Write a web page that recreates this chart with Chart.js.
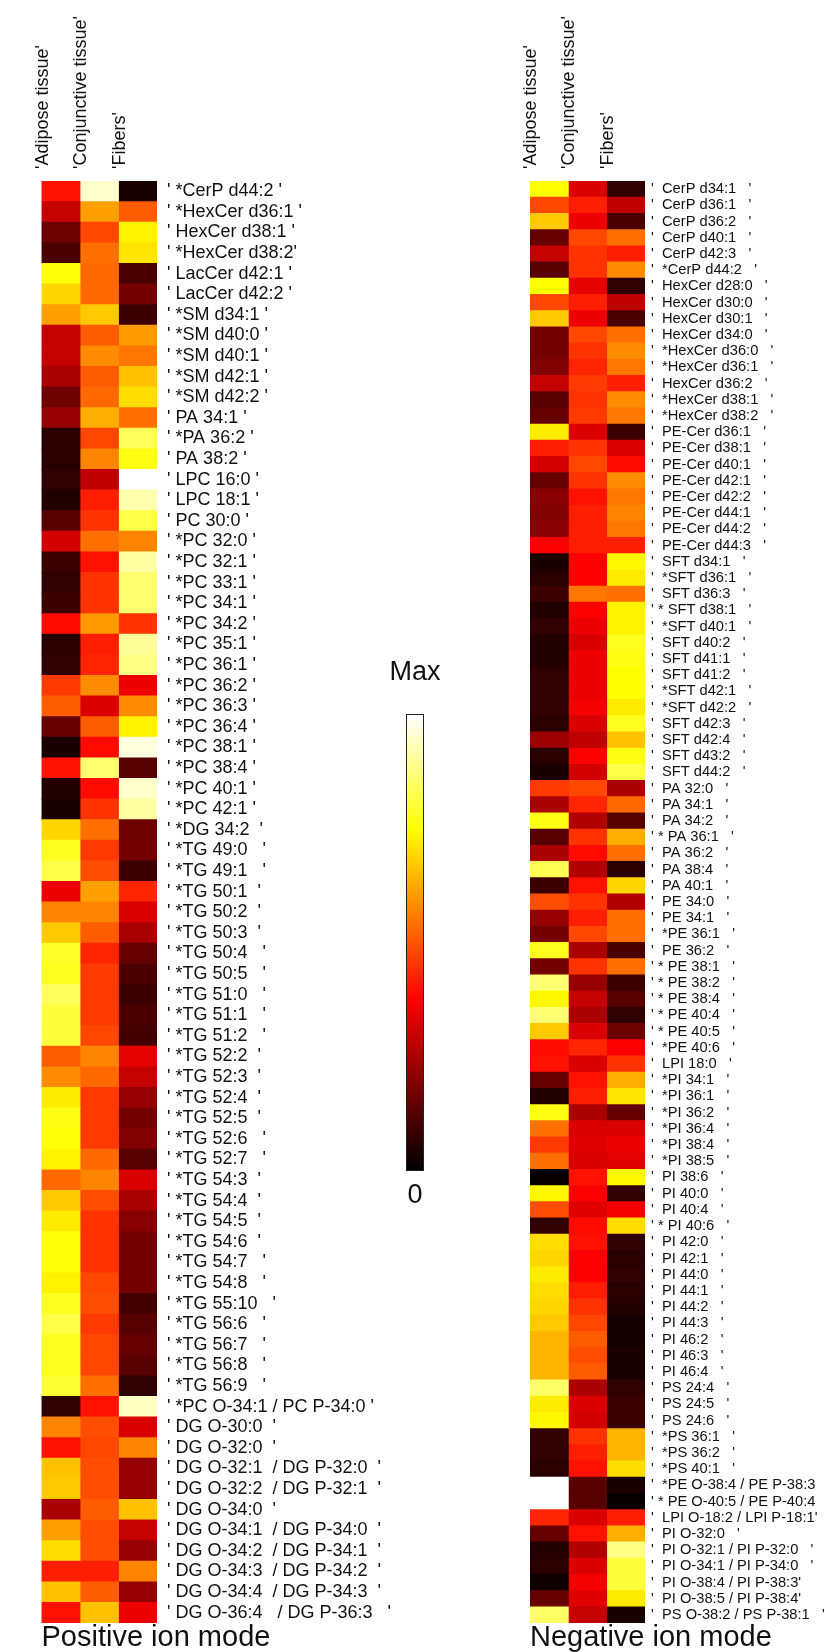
<!DOCTYPE html>
<html lang="en">
  <head>
    <meta charset="UTF-8" />
    <title>lipid heatmap</title>
    <script src="https://cdn.jsdelivr.net/npm/chart.js@4.4.1/dist/chart.umd.min.js"></script>
    <style>
      body { margin: 0; background: #fff; font-family: "Liberation Sans", Arial, sans-serif; }
      #figure { position: relative; width: 825px; height: 1652px; overflow: hidden; }
      canvas { position: absolute; top: 0; }
      #posChart { left: 0; }
      #negChart { left: 480px; }
      #colorbar {
        position: absolute; left: 406px; top: 714px; width: 16px; height: 455px;
        border: 1px solid #222;
        background: linear-gradient(to top, #000 0%, #f00 37.5%, #ff0 75%, #fff 100%);
      }
      .cbText { position: absolute; width: 80px; text-align: center; font-size: 27px; color: #111; }
    </style>
    <script defer>
      const tissues = ["'Adipose tissue'", "'Conjunctive tissue'", "'Fibers'"];

      // positive ion mode
      const posLabels = [
        "' *CerP d44:2 '", "' *HexCer d36:1 '", "' HexCer d38:1 '", "' *HexCer d38:2'",
        "' LacCer d42:1 '", "' LacCer d42:2 '", "' *SM d34:1 '", "' *SM d40:0 '",
        "' *SM d40:1 '", "' *SM d42:1 '", "' *SM d42:2 '", "' PA 34:1 '",
        "' *PA 36:2 '", "' PA 38:2 '", "' LPC 16:0 '", "' LPC 18:1 '", "' PC 30:0 '",
        "' *PC 32:0 '", "' *PC 32:1 '", "' *PC 33:1 '", "' *PC 34:1 '", "' *PC 34:2 '",
        "' *PC 35:1 '", "' *PC 36:1 '", "' *PC 36:2 '", "' *PC 36:3 '", "' *PC 36:4 '",
        "' *PC 38:1 '", "' *PC 38:4 '", "' *PC 40:1 '", "' *PC 42:1 '", "' *DG 34:2  '",
        "' *TG 49:0   '", "' *TG 49:1   '", "' *TG 50:1  '", "' *TG 50:2  '", "' *TG 50:3  '",
        "' *TG 50:4   '", "' *TG 50:5   '", "' *TG 51:0   '", "' *TG 51:1   '", "' *TG 51:2   '",
        "' *TG 52:2  '", "' *TG 52:3  '", "' *TG 52:4  '", "' *TG 52:5  '", "' *TG 52:6   '",
        "' *TG 52:7   '", "' *TG 54:3  '", "' *TG 54:4  '", "' *TG 54:5  '", "' *TG 54:6  '",
        "' *TG 54:7   '", "' *TG 54:8   '", "' *TG 55:10   '", "' *TG 56:6   '", "' *TG 56:7   '",
        "' *TG 56:8   '", "' *TG 56:9   '", "' *PC O-34:1 / PC P-34:0 '", "' DG O-30:0  '",
        "' DG O-32:0  '", "' DG O-32:1  / DG P-32:0  '", "' DG O-32:2  / DG P-32:1  '",
        "' DG O-34:0  '", "' DG O-34:1  / DG P-34:0  '", "' DG O-34:2  / DG P-34:1  '",
        "' DG O-34:3  / DG P-34:2  '", "' DG O-34:4  / DG P-34:3  '", "' DG O-36:4   / DG P-36:3   '"
      ];
      const posAdipose = [
        0.40, 0.29, 0.16, 0.11, 0.76, 0.69, 0.61, 0.29, 0.29, 0.25,
        0.16, 0.22, 0.06, 0.06, 0.07, 0.05, 0.13, 0.31, 0.09, 0.07,
        0.09, 0.39, 0.06, 0.07, 0.46, 0.51, 0.15, 0.04, 0.40, 0.05,
        0.04, 0.69, 0.78, 0.82, 0.35, 0.57, 0.67, 0.79, 0.78, 0.84,
        0.81, 0.81, 0.51, 0.58, 0.72, 0.77, 0.76, 0.73, 0.53, 0.67,
        0.72, 0.76, 0.76, 0.73, 0.78, 0.82, 0.78, 0.78, 0.80, 0.07,
        0.57, 0.40, 0.66, 0.67, 0.25, 0.61, 0.70, 0.42, 0.66, 0.40
      ];
      const posConjunctive = [
        0.95, 0.61, 0.48, 0.54, 0.53, 0.53, 0.67, 0.51, 0.58, 0.51,
        0.53, 0.63, 0.48, 0.57, 0.28, 0.42, 0.45, 0.54, 0.40, 0.45,
        0.45, 0.60, 0.42, 0.43, 0.58, 0.32, 0.51, 0.39, 0.86, 0.39,
        0.45, 0.54, 0.46, 0.49, 0.61, 0.57, 0.51, 0.43, 0.46, 0.46,
        0.46, 0.48, 0.57, 0.53, 0.46, 0.46, 0.46, 0.53, 0.57, 0.49,
        0.45, 0.45, 0.45, 0.48, 0.49, 0.46, 0.48, 0.48, 0.54, 0.40,
        0.49, 0.48, 0.49, 0.49, 0.51, 0.49, 0.49, 0.42, 0.51, 0.66
      ];
      const posFibers = [
        0.04, 0.51, 0.73, 0.71, 0.11, 0.17, 0.09, 0.60, 0.55, 0.66,
        0.70, 0.54, 0.84, 0.77, 1.00, 0.92, 0.82, 0.57, 0.91, 0.86,
        0.86, 0.45, 0.90, 0.88, 0.35, 0.58, 0.73, 0.97, 0.13, 0.95,
        0.91, 0.16, 0.17, 0.09, 0.43, 0.32, 0.25, 0.15, 0.11, 0.09,
        0.11, 0.10, 0.34, 0.29, 0.22, 0.17, 0.19, 0.13, 0.32, 0.25,
        0.20, 0.17, 0.17, 0.17, 0.10, 0.13, 0.15, 0.13, 0.07, 0.94,
        0.32, 0.57, 0.22, 0.22, 0.66, 0.29, 0.22, 0.57, 0.22, 0.35
      ];

      // negative ion mode
      const negLabels = [
        "'  CerP d34:1   '", "'  CerP d36:1   '", "'  CerP d36:2   '", "'  CerP d40:1   '",
        "'  CerP d42:3   '", "'  *CerP d44:2   '", "'  HexCer d28:0   '", "'  HexCer d30:0   '",
        "'  HexCer d30:1   '", "'  HexCer d34:0   '", "'  *HexCer d36:0   '", "'  *HexCer d36:1   '",
        "'  HexCer d36:2   '", "'  *HexCer d38:1   '", "'  *HexCer d38:2   '", "'  PE-Cer d36:1   '",
        "'  PE-Cer d38:1   '", "'  PE-Cer d40:1   '", "'  PE-Cer d42:1   '", "'  PE-Cer d42:2   '",
        "'  PE-Cer d44:1   '", "'  PE-Cer d44:2   '", "'  PE-Cer d44:3   '", "'  SFT d34:1   '",
        "'  *SFT d36:1   '", "'  SFT d36:3   '", "' * SFT d38:1   '", "'  *SFT d40:1   '",
        "'  SFT d40:2   '", "'  SFT d41:1   '", "'  SFT d41:2   '", "'  *SFT d42:1   '",
        "'  *SFT d42:2   '", "'  SFT d42:3   '", "'  SFT d42:4   '", "'  SFT d43:2   '",
        "'  SFT d44:2   '", "'  PA 32:0   '", "'  PA 34:1   '", "'  PA 34:2   '",
        "' * PA 36:1   '", "'  PA 36:2   '", "'  PA 38:4   '", "'  PA 40:1   '",
        "'  PE 34:0   '", "'  PE 34:1   '", "'  *PE 36:1   '", "'  PE 36:2   '",
        "' * PE 38:1   '", "' * PE 38:2   '", "' * PE 38:4   '", "' * PE 40:4   '",
        "' * PE 40:5   '", "'  *PE 40:6   '", "'  LPI 18:0   '", "'  *PI 34:1   '",
        "'  *PI 36:1   '", "'  *PI 36:2   '", "'  *PI 36:4   '", "'  *PI 38:4   '",
        "'  *PI 38:5   '", "'  PI 38:6   '", "'  PI 40:0   '", "'  PI 40:4   '",
        "' * PI 40:6   '", "'  PI 42:0   '", "'  PI 42:1   '", "'  PI 44:0   '",
        "'  PI 44:1   '", "'  PI 44:2   '", "'  PI 44:3   '", "'  PI 46:2   '",
        "'  PI 46:3   '", "'  PI 46:4   '", "'  PS 24:4   '", "'  PS 24:5   '",
        "'  PS 24:6   '", "'  *PS 36:1   '", "'  *PS 36:2   '", "'  *PS 40:1   '",
        "'  *PE O-38:4 / PE P-38:3   '", "' * PE O-40:5 / PE P-40:4   '",
        "'  LPI O-18:2 / LPI P-18:1'", "'  PI O-32:0   '", "'  PI O-32:1 / PI P-32:0   '",
        "'  PI O-34:1 / PI P-34:0   '", "'  PI O-38:4 / PI P-38:3'", "'  PI O-38:5 / PI P-38:4'",
        "'  PS O-38:2 / PS P-38:1   '"
      ];
      const negAdipose = [
        0.75, 0.48, 0.67, 0.15, 0.29, 0.13, 0.75, 0.48, 0.67, 0.17,
        0.17, 0.19, 0.29, 0.13, 0.15, 0.72, 0.42, 0.31, 0.15, 0.20,
        0.19, 0.20, 0.37, 0.04, 0.06, 0.09, 0.05, 0.07, 0.05, 0.05,
        0.07, 0.07, 0.07, 0.06, 0.23, 0.06, 0.04, 0.46, 0.25, 0.77,
        0.13, 0.25, 0.83, 0.09, 0.49, 0.22, 0.17, 0.78, 0.17, 0.86,
        0.74, 0.86, 0.67, 0.39, 0.40, 0.15, 0.05, 0.77, 0.54, 0.46,
        0.54, 0.01, 0.74, 0.49, 0.07, 0.70, 0.69, 0.72, 0.70, 0.69,
        0.67, 0.64, 0.64, 0.64, 0.85, 0.72, 0.74, 0.07, 0.07, 0.06,
        1.00, 1.00, 0.43, 0.15, 0.05, 0.06, 0.02, 0.15, 0.85
      ];
      const negConjunctive = [
        0.32, 0.42, 0.35, 0.48, 0.45, 0.45, 0.34, 0.42, 0.35, 0.48,
        0.45, 0.43, 0.46, 0.45, 0.46, 0.32, 0.45, 0.48, 0.45, 0.40,
        0.42, 0.42, 0.42, 0.375, 0.375, 0.55, 0.37, 0.35, 0.32, 0.35,
        0.35, 0.35, 0.36, 0.32, 0.28, 0.37, 0.31, 0.48, 0.43, 0.26,
        0.45, 0.39, 0.26, 0.40, 0.45, 0.42, 0.48, 0.25, 0.45, 0.22,
        0.29, 0.25, 0.32, 0.43, 0.32, 0.40, 0.42, 0.25, 0.32, 0.33,
        0.32, 0.40, 0.37, 0.33, 0.39, 0.40, 0.37, 0.37, 0.42, 0.45,
        0.48, 0.51, 0.49, 0.51, 0.25, 0.32, 0.31, 0.45, 0.42, 0.40,
        0.13, 0.13, 0.32, 0.40, 0.26, 0.32, 0.36, 0.33, 0.29
      ];
      const negFibers = [
        0.07, 0.28, 0.11, 0.54, 0.42, 0.58, 0.07, 0.28, 0.11, 0.54,
        0.58, 0.55, 0.42, 0.58, 0.55, 0.09, 0.32, 0.39, 0.58, 0.55,
        0.57, 0.55, 0.42, 0.74, 0.72, 0.54, 0.73, 0.73, 0.78, 0.77,
        0.75, 0.75, 0.72, 0.78, 0.66, 0.77, 0.82, 0.25, 0.53, 0.13,
        0.63, 0.54, 0.06, 0.69, 0.26, 0.54, 0.54, 0.11, 0.54, 0.09,
        0.13, 0.07, 0.16, 0.37, 0.45, 0.63, 0.71, 0.15, 0.32, 0.35,
        0.33, 0.74, 0.07, 0.36, 0.70, 0.07, 0.06, 0.07, 0.06, 0.05,
        0.03, 0.03, 0.04, 0.04, 0.07, 0.09, 0.09, 0.64, 0.64, 0.70,
        0.04, 0.01, 0.42, 0.63, 0.88, 0.81, 0.81, 0.72, 0.04
      ];

      const FONT = "'Liberation Sans', Arial, sans-serif";

      // matlab "hot" colormap
      function hot(v) {
        const r = Math.min(1, v / 0.375);
        const g = Math.min(1, Math.max(0, (v - 0.375) / 0.375));
        const b = Math.min(1, Math.max(0, (v - 0.75) / 0.25));
        return `rgb(${Math.round(r * 255)},${Math.round(g * 255)},${Math.round(b * 255)})`;
      }

      function makeHeatmap(id, rowLabels, columns, box) {
        const canvas = document.getElementById(id);
        const datasets = columns.map((values, j) => ({
          label: tissues[j],
          data: values.map(() => [j, j + 1]),
          backgroundColor: values.map(hot),
          borderWidth: 0,
          inflateAmount: 0.4,
          barPercentage: 1,
          categoryPercentage: 1,
          grouped: false,
        }));

        return new Chart(canvas, {
          type: "bar",
          data: { labels: rowLabels, datasets },
          options: {
            indexAxis: "y",
            responsive: false,
            animation: false,
            events: [],
            layout: { padding: { left: box.left, right: 0, top: 0, bottom: 0 } },
            plugins: {
              legend: { display: false },
              tooltip: { enabled: false },
              title: {
                display: true,
                text: box.title,
                position: "bottom",
                align: "start",
                color: "#111",
                font: { family: FONT, size: 29, weight: "normal", lineHeight: 1 },
                padding: 0,
              },
            },
            scales: {
              x: {
                type: "linear",
                position: "top",
                min: 0,
                max: 3,
                grid: { display: false, drawTicks: false },
                border: { display: false },
                afterBuildTicks: (s) => {
                  s.ticks = tissues.map((_, j) => ({ value: j + 0.5 }));
                },
                afterFit: (s) => { s.height = box.top; },
                ticks: {
                  autoSkip: false,
                  minRotation: 90,
                  maxRotation: 90,
                  padding: 12,
                  color: "#111",
                  font: { family: FONT, size: 18, lineHeight: 1 },
                  callback: (v, i) => tissues[i],
                },
              },
              y: {
                position: "right",
                grid: { display: false, drawTicks: false },
                border: { display: false },
                afterFit: (s) => { s.width = canvas.width - box.right; },
                ticks: {
                  autoSkip: false,
                  padding: box.labelPad,
                  color: "#111",
                  font: { family: FONT, size: box.fontSize, lineHeight: 1 },
                },
              },
            },
          },
        });
      }

      window.addEventListener("DOMContentLoaded", () => {
        makeHeatmap("posChart", posLabels, [posAdipose, posConjunctive, posFibers], {
          left: 41.5, right: 157, top: 181, labelPad: 10, fontSize: 18,
          title: "Positive ion mode",
        });
        makeHeatmap("negChart", negLabels, [negAdipose, negConjunctive, negFibers], {
          left: 50, right: 165, top: 181, labelPad: 6, fontSize: 14.7,
          title: "Negative ion mode",
        });
      });
    </script>
  </head>
  <body>
    <div id="figure">
      <canvas id="posChart" width="410" height="1652"></canvas>
      <canvas id="negChart" width="345" height="1652"></canvas>
      <div id="colorbar"></div>
      <div class="cbText" style="left: 375px; top: 656px;">Max</div>
      <div class="cbText" style="left: 375px; top: 1179px;">0</div>
    </div>
  </body>
</html>
